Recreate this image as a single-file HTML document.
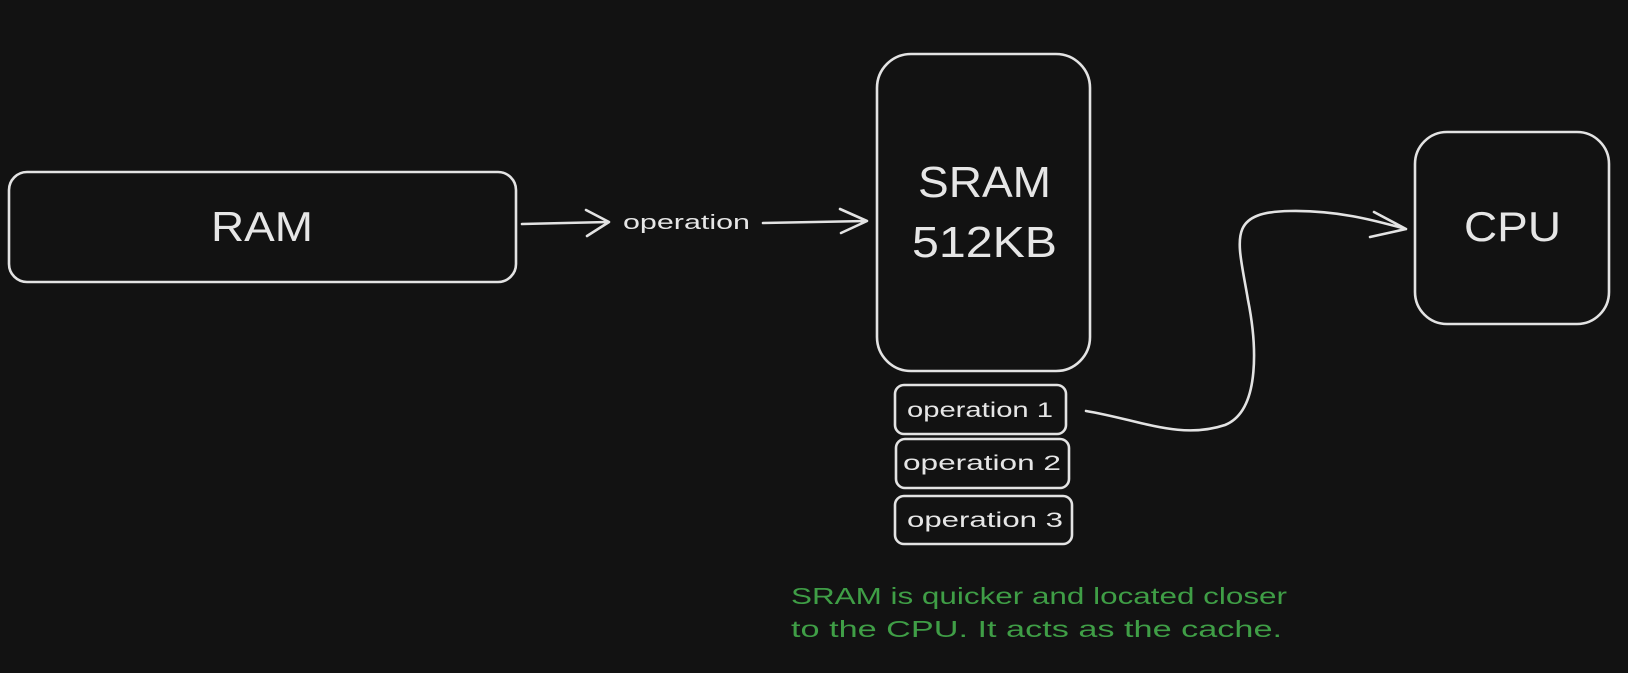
<!DOCTYPE html>
<html><head><meta charset="utf-8"><style>
html,body{margin:0;padding:0;background:#121212;}
body{width:1628px;height:673px;overflow:hidden;}
svg{display:block}
text{font-family:"Liberation Sans",sans-serif;}
</style></head><body>
<svg width="1628" height="673" viewBox="0 0 1628 673" xmlns="http://www.w3.org/2000/svg">
<rect width="1628" height="673" fill="#121212"/>
<g fill="none" stroke="#e3e3e3" stroke-width="2.6" stroke-linecap="round" stroke-linejoin="round">
<rect x="9" y="172" width="507" height="110" rx="18"/>
<rect x="877" y="54" width="213" height="317" rx="34"/>
<rect x="895" y="385" width="171" height="49" rx="9"/>
<rect x="896" y="439" width="173" height="49" rx="9"/>
<rect x="895" y="496" width="177" height="48" rx="9"/>
<rect x="1415" y="132" width="194" height="192" rx="32"/>
<path d="M522 224 L608 222 M586 210 L609 222 L587 236"/>
<path d="M763 223 L866 221 M840 209 L867 221 L841 233"/>
<path d="M1086 411 C1140 420,1180 440,1225 425 C1262 410,1256 340,1248 300 C1238 240,1225 212,1290 211 C1340 210,1380 222,1406 229 M1374 212 L1406 229 L1370 237"/>
</g>
<g fill="#e6e6e6" lengthAdjust="spacingAndGlyphs">
<text x="211" y="241" font-size="42" textLength="102" lengthAdjust="spacingAndGlyphs">RAM</text>
<text x="623" y="229" font-size="20" textLength="127" lengthAdjust="spacingAndGlyphs">operation</text>
<text x="918" y="197" font-size="44" textLength="133" lengthAdjust="spacingAndGlyphs">SRAM</text>
<text x="912" y="257" font-size="44" textLength="145" lengthAdjust="spacingAndGlyphs">512KB</text>
<text x="907" y="417" font-size="21" textLength="146" lengthAdjust="spacingAndGlyphs">operation 1</text>
<text x="903" y="470" font-size="21" textLength="158" lengthAdjust="spacingAndGlyphs">operation 2</text>
<text x="907" y="527" font-size="21" textLength="156" lengthAdjust="spacingAndGlyphs">operation 3</text>
<text x="1464" y="241" font-size="42" textLength="97" lengthAdjust="spacingAndGlyphs">CPU</text>
</g>
<g fill="#3f9e46" font-size="23">
<text x="791" y="604" textLength="496" lengthAdjust="spacingAndGlyphs">SRAM is quicker and located closer</text>
<text x="791" y="637" textLength="491" lengthAdjust="spacingAndGlyphs">to the CPU. It acts as the cache.</text>
</g>
</svg>
</body></html>
